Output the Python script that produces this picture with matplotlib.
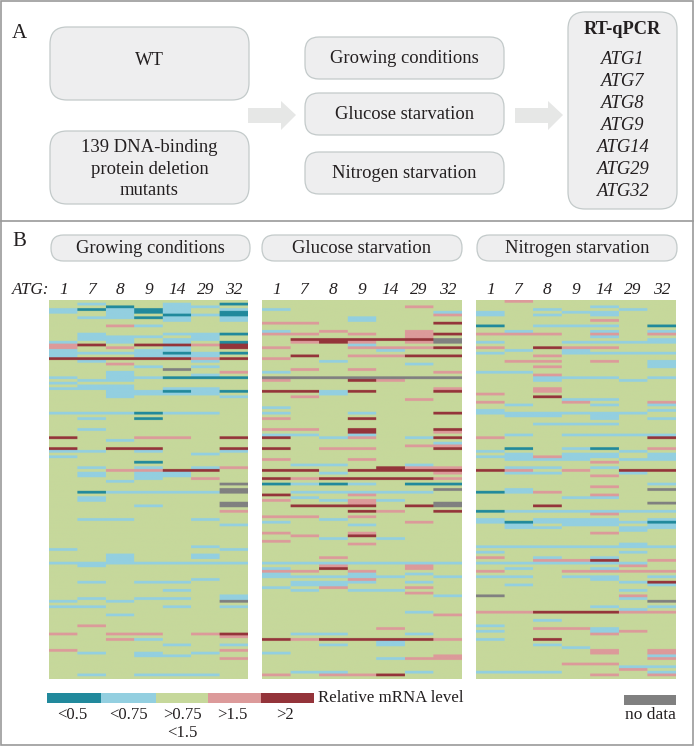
import numpy as np
import matplotlib
matplotlib.use("Agg")
import matplotlib.pyplot as plt
from matplotlib.colors import ListedColormap
from matplotlib.patches import FancyBboxPatch, Polygon, Rectangle

plt.rcParams['font.family'] = ['Liberation Serif', 'DejaVu Serif']

n_rows = 139
atg_labels = ['1', '7', '8', '9', '14', '29', '32']
panel_titles = ['Growing conditions', 'Glucose starvation', 'Nitrogen starvation']
genes = ['ATG1', 'ATG7', 'ATG8', 'ATG9', 'ATG14', 'ATG29', 'ATG32']
legend_labels = ['<0.5', '<0.75', '>0.75\n<1.5', '>1.5', '>2']
level_colors = ['#21899c', '#93cfe0', '#c6d89b', '#dc9a9a', '#94343a', '#808080']

# level of each stripe: 0 <0.5, 1 <0.75, 3 >1.5, 4 >2, 5 no data (all other cells are level 2)
growing_atg1 = {1: [3, 4, 15, 18, 19, 20, 28, 30, 32, 41, 55, 57, 91, 96, 110, 112],
                3: [16, 17, 122, 128], 4: [21, 50, 54]}
growing_atg7 = {0: [3, 70], 1: [1, 6, 12, 13, 14, 19, 22, 29, 31, 32, 41, 43, 47, 55, 61, 63, 64, 72, 73,
                                80, 96, 97, 103, 109, 112, 129, 137],
                3: [119], 4: [16, 21]}
growing_atg8 = {0: [2], 1: [3, 4, 5, 6, 13, 14, 15, 19, 26, 27, 28, 29, 31, 32, 33, 34, 35, 41, 51, 66, 70,
                            80, 93, 94, 95, 96, 110, 115],
                3: [9, 17, 23, 62, 122, 124], 4: [21, 54]}
growing_atg9 = {0: [3, 4, 6, 41, 43, 59], 1: [9, 13, 18, 19, 20, 24, 28, 33, 34, 55, 61, 63, 64, 65, 70, 75,
                                              96, 103, 109, 124, 129, 130, 137],
                3: [50, 62, 122], 4: [16, 21, 54]}
growing_atg14 = {0: [5, 19, 28, 33], 1: [1, 2, 3, 4, 6, 7, 12, 14, 15, 17, 18, 20, 32, 34, 41, 63, 64, 70,
                                         96, 103, 106, 109, 112, 126, 130, 137],
                 3: [50], 4: [16, 21, 62], 5: [25]}
growing_atg29 = {0: [28], 1: [2, 5, 12, 13, 14, 19, 20, 22, 24, 27, 32, 33, 34, 41, 56, 61, 70, 80, 90, 93,
                              94, 96, 102, 129, 137],
                 3: [16, 21, 65, 122], 4: [62]}
growing_atg32 = {0: [1, 4, 5, 12, 15, 19, 28, 33], 1: [3, 6, 7, 35, 55, 82, 91, 96, 108, 109, 112, 126],
                 3: [26, 61, 77, 123, 128, 131], 4: [16, 17, 21, 50, 54, 122],
                 5: [67, 69, 70, 74, 75, 110]}

glucose_atg1 = {0: [67], 1: [3, 11, 26, 39, 41, 49, 81, 96, 98, 100, 101, 105, 129],
                3: [8, 12, 17, 21, 29, 43, 47, 58, 73, 79, 85, 88, 99, 137],
                4: [33, 50, 54, 62, 65, 71, 124], 5: [28]}
glucose_atg7 = {1: [49, 60, 67, 70, 72, 96, 101, 103, 104, 106, 122, 136],
                3: [8, 12, 15, 25, 35, 47, 65, 79, 86, 99, 124], 4: [14, 20, 33, 62, 75], 5: [28]}
glucose_atg8 = {0: [67], 1: [22, 33, 34, 50, 60, 63, 70, 73, 80, 87, 96, 101, 103, 104, 122, 126, 136],
                3: [11, 54, 94, 97, 105, 137], 4: [14, 15, 65, 75, 98, 124], 5: [28]}
glucose_atg9 = {1: [6, 7, 16, 41, 49, 67, 70, 82, 96, 100, 101, 103, 106],
                3: [12, 15, 17, 20, 25, 50, 54, 58, 71, 73, 74, 79, 85, 89, 99, 102, 137],
                4: [14, 29, 33, 43, 47, 48, 62, 65, 75, 77, 86, 124], 5: [28]}
glucose_atg14 = {1: [18, 70, 73, 87, 96, 101, 106, 125, 126, 131],
                 3: [17, 20, 29, 77, 120], 4: [14, 61, 62, 65, 124, 137], 5: [28]}
glucose_atg29 = {0: [67], 1: [23, 50, 60, 70, 96, 100, 103, 114, 122, 136],
                 3: [2, 11, 12, 13, 15, 17, 36, 53, 61, 81, 97, 98, 105, 107, 131],
                 4: [14, 20, 62, 65, 75, 124], 5: [28]}
glucose_atg32 = {0: [67], 1: [4, 52, 96, 101, 108],
                 3: [5, 26, 32, 48, 53, 61, 63, 65, 115, 124, 130, 131],
                 4: [8, 12, 17, 20, 33, 41, 47, 50, 54, 62, 77], 5: [14, 15, 28, 69, 74, 75]}

nitrogen_atg1 = {0: [9, 70, 77], 1: [4, 5, 15, 19, 26, 40, 41, 55, 57, 80, 81, 90, 92, 96, 101, 119, 121, 124, 136],
                 3: [12, 17, 34, 37, 50, 94, 99, 114], 4: [62], 5: [108]}
nitrogen_atg7 = {0: [54, 81], 1: [11, 18, 26, 38, 41, 42, 49, 56, 57, 58, 61, 63, 69, 70, 77, 82, 83, 90, 96,
                                  98, 101, 104, 136],
                 3: [0, 12, 22, 62, 114]}
nitrogen_atg8 = {1: [3, 5, 9, 28, 29, 41, 42, 45, 58, 61, 63, 77, 80, 81, 83, 90, 94, 96, 117, 126, 136],
                 3: [12, 20, 22, 24, 27, 32, 33, 57, 70, 95, 120], 4: [17, 35, 75, 114, 124]}
nitrogen_atg9 = {1: [4, 9, 15, 18, 19, 28, 36, 41, 45, 49, 54, 56, 57, 58, 72, 77, 80, 81, 82, 90, 96, 101, 127],
                 3: [17, 37, 62, 95, 99, 120, 133], 4: [114]}
nitrogen_atg14 = {0: [54], 1: [2, 4, 5, 9, 11, 13, 15, 19, 28, 36, 38, 41, 42, 43, 45, 49, 56, 57, 61, 72, 77,
                               80, 81, 82, 90, 94, 96, 98, 101, 102, 112, 120, 121],
                  3: [7, 12, 17, 22, 59, 64, 68, 71, 78, 85, 99, 122, 128, 129, 133, 137], 4: [95, 114]}
nitrogen_atg29 = {1: [3, 15, 19, 29, 41, 49, 55, 58, 63, 77, 81, 83, 84, 89, 90, 92, 96, 103, 106, 109, 113, 134],
                  3: [97, 99, 108, 114, 121, 135], 4: [62]}
nitrogen_atg32 = {0: [9, 81], 1: [11, 14, 15, 19, 22, 23, 24, 28, 38, 40, 43, 49, 56, 57, 58, 67, 77, 80, 82,
                                  83, 90, 101, 104, 112, 130, 134, 136],
                  3: [12, 37, 54, 95, 99, 114, 128, 129, 131, 137], 4: [50, 62, 103], 5: [69, 74, 110]}

panel_columns = [
    [growing_atg1, growing_atg7, growing_atg8, growing_atg9, growing_atg14, growing_atg29, growing_atg32],
    [glucose_atg1, glucose_atg7, glucose_atg8, glucose_atg9, glucose_atg14, glucose_atg29, glucose_atg32],
    [nitrogen_atg1, nitrogen_atg7, nitrogen_atg8, nitrogen_atg9, nitrogen_atg14, nitrogen_atg29, nitrogen_atg32],
]

W, H = 694, 747
box_fill = '#eeeeef'
box_edge = '#c3caca'
arrow_color = '#e6e7e6'
text_color = '#231f20'

fig = plt.figure(figsize=(W / 100, H / 100), dpi=100, facecolor='white')
bg = fig.add_axes([0, 0, 1, 1])
bg.set_xlim(0, W)
bg.set_ylim(H, 0)
bg.axis('off')


def round_box(x0, y0, x1, y1, r, label=None, size=13.4, shift=0.8):
    bg.add_patch(FancyBboxPatch((x0 + r, y0 + r), x1 - x0 - 2 * r, y1 - y0 - 2 * r,
                                boxstyle='round,pad=%g,rounding_size=%g' % (r, r),
                                fc=box_fill, ec=box_edge, lw=0.9))
    if label:
        bg.text((x0 + x1) / 2, (y0 + y1) / 2 + shift, label, ha='center', va='center',
                fontsize=size, color=text_color, linespacing=1.36)


def arrow(x0):
    pts = [(x0, 108), (x0 + 33, 108), (x0 + 33, 101), (x0 + 48, 115),
           (x0 + 33, 130), (x0 + 33, 123), (x0, 123)]
    bg.add_patch(Polygon(pts, fc=arrow_color, ec='none'))


# frame of both parts
bg.add_patch(Rectangle((0.5, 0.8), 692.5, 744.5, fc='none', ec='#9a9a9a', lw=1.2))
bg.plot([0.5, 693], [221, 221], color='#9a9a9a', lw=1.2)

# part A
bg.text(12, 34, 'A', fontsize=15, ha='left', va='center', color=text_color)
round_box(50, 27, 249, 100, 17, 'WT', shift=-3)
round_box(50, 131, 249, 204, 17, '139 DNA-binding\nprotein deletion\nmutants', shift=1.5)
for (y0, y1), title in zip([(37, 79), (93, 135), (152, 194)], panel_titles):
    round_box(305, y0, 504, y1, 14, title)
arrow(248)
arrow(515)
round_box(568, 12, 677, 209, 17)
bg.text(622, 29, 'RT-qPCR', fontsize=13.2, fontweight='bold', ha='center', va='center', color=text_color)
for i, g in enumerate(genes):
    bg.text(622, 59 + i * 22.1, g, fontsize=13.3, style='italic', ha='center', va='center', color=text_color)

# part B
bg.text(12, 241.5, 'B', fontsize=15, ha='left', va='center', color=text_color)
bg.text(12, 289.5, 'ATG:', fontsize=12.3, style='italic', ha='left', va='center', color=text_color)
pill_x = [(51, 250), (262, 462), (477, 677)]
for (x0, x1), title in zip(pill_x, panel_titles):
    round_box(x0, 235, x1, 261, 12.5, title)

cmap = ListedColormap(level_colors)
heat_x = [(49.3, 248), (262, 462), (476, 676)]
heat_top, heat_bottom = 300.3, 679
y_rep, x_rep = 8, 28
for (x0, x1), columns in zip(heat_x, panel_columns):
    grid = np.full((n_rows, len(atg_labels)), 2)
    for j, col in enumerate(columns):
        for level, rows in col.items():
            grid[rows, j] = level
    ax = fig.add_axes([x0 / W, 1 - heat_bottom / H, (x1 - x0) / W, (heat_bottom - heat_top) / H])
    # repeat the cells so the resampling only softens stripe edges, like the source picture
    fine = np.repeat(np.repeat(grid, y_rep, axis=0), x_rep, axis=1)
    ax.imshow(fine, cmap=cmap, vmin=0, vmax=5, aspect='auto', interpolation='hanning',
              interpolation_stage='rgba', extent=(-0.5, 6.5, n_rows - 0.5, -0.5))
    ax.set_xticks(range(len(atg_labels)))
    ax.set_xticklabels(atg_labels, fontsize=12.5, style='italic', color=text_color)
    ax.xaxis.tick_top()
    ax.tick_params(axis='x', length=0, pad=1.5)
    ax.set_yticks([])
    for s in ax.spines.values():
        s.set_visible(False)

# legend
edges = [47, 101.5, 156, 208, 261, 314]
legend_levels = [0, 1, 2, 3, 4]
label_x = [72, 128, 182, 232, 285]
for i, lev in enumerate(legend_levels):
    bg.add_patch(Rectangle((edges[i], 693), edges[i + 1] - edges[i], 10, fc=level_colors[lev], ec='none'))
    bg.text(label_x[i], 707, legend_labels[i], fontsize=12, ha='center', va='top',
            color=text_color, linespacing=1.15)
bg.text(318, 698, 'Relative mRNA level', fontsize=12.2, ha='left', va='center', color=text_color)
bg.add_patch(Rectangle((624, 695), 52, 10, fc=level_colors[5], ec='none'))
bg.text(650, 707, 'no data', fontsize=12.5, ha='center', va='top', color=text_color)

fig.savefig('out.png', dpi=100)
